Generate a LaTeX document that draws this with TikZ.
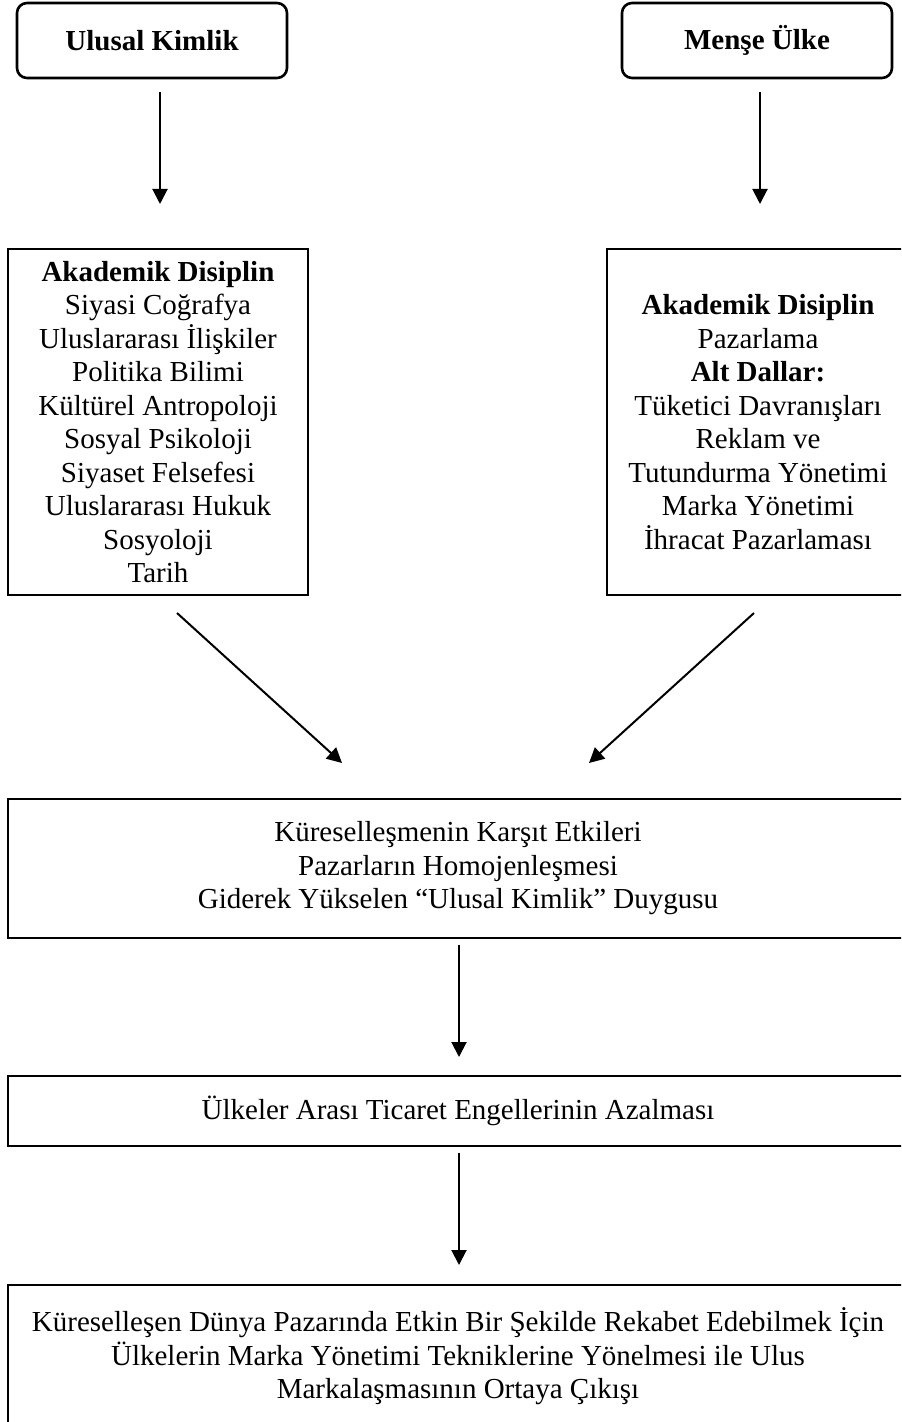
\documentclass[tikz,border=0pt]{standalone}
\usepackage{fontspec}
\setmainfont{Liberation Serif}
\usetikzlibrary{arrows.meta}
\tikzset{basic/.style={draw,line width=1.3pt,inner sep=0pt,align=center,font={\fontsize{14.5pt}{16.75pt}\selectfont}}}
\tikzset{topic/.style={basic,rounded corners=5pt,minimum width=135pt,minimum height=37.5pt,font={\fontsize{14.5pt}{16.75pt}\selectfont\bfseries}}}
\tikzset{field/.style={basic,minimum width=151pt,minimum height=173pt}}
\tikzset{stage/.style={basic,minimum width=450pt}}
\tikzset{arr/.style={line width=1pt,-{Triangle[width=7.5pt,length=7.5pt]}}}

\begin{document}
\begin{tikzpicture}[x=0.5pt,y=-0.5pt]
        \useasboundingbox (0,0) rectangle (901,1422);
        \clip (0,0) rectangle (901,1422);
        \node[topic] (ulusal) at (152,40.5) {Ulusal Kimlik};
        \node[topic] (mense) at (757,40.5) {Menşe Ülke};
        \node[field,minimum width=150pt] (disiplin1) at (158,422) {\textbf{Akademik Disiplin}\\Siyasi Coğrafya\\Uluslararası İlişkiler\\Politika Bilimi\\Kültürel Antropoloji\\Sosyal Psikoloji\\Siyaset Felsefesi\\Uluslararası Hukuk\\Sosyoloji\\Tarih};
        \node[field] (disiplin2) at (758,422) {\textbf{Akademik Disiplin}\\Pazarlama\\\textbf{Alt Dallar:}\\Tüketici Davranışları\\Reklam ve\\Tutundurma Yönetimi\\Marka Yönetimi\\İhracat Pazarlaması};
        \node[stage,minimum height=69.5pt] (karsit) at (458,868.5) {Küreselleşmenin Karşıt Etkileri\\Pazarların Homojenleşmesi\\Giderek Yükselen “Ulusal Kimlik” Duygusu};
        \node[stage,minimum height=35pt] (ticaret) at (458,1111) {Ülkeler Arası Ticaret Engellerinin Azalması};
        \node[stage,minimum height=71.5pt] (markalasma) at (458,1356.5) {Küreselleşen Dünya Pazarında Etkin Bir Şekilde Rekabet Edebilmek İçin\\Ülkelerin Marka Yönetimi Tekniklerine Yönelmesi ile Ulus\\Markalaşmasının Ortaya Çıkışı};
        \coordinate (ulusal-out) at (160,92);
        \coordinate (disiplin1-in) at (160,204);
        \coordinate (mense-out) at (760,92);
        \coordinate (disiplin2-in) at (760,204);
        \coordinate (disiplin1-out) at (177,613);
        \coordinate (karsit-in1) at (342,763);
        \coordinate (disiplin2-out) at (754,613);
        \coordinate (karsit-in2) at (589,763);
        \coordinate (karsit-out) at (459,945);
        \coordinate (ticaret-in) at (459,1057);
        \coordinate (ticaret-out) at (459,1153);
        \coordinate (markalasma-in) at (459,1265);
            \path[draw,arr] (ulusal-out) -- (disiplin1-in);
            \path[draw,arr] (mense-out) -- (disiplin2-in);
            \path[draw,arr] (disiplin1-out) -- (karsit-in1);
            \path[draw,arr] (disiplin2-out) -- (karsit-in2);
            \path[draw,arr] (karsit-out) -- (ticaret-in);
            \path[draw,arr] (ticaret-out) -- (markalasma-in);
    \end{tikzpicture}
\end{document}
